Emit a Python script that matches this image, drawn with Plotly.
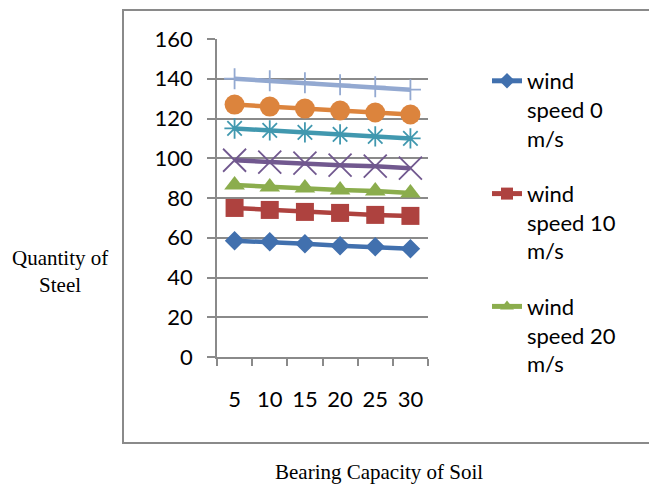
import plotly.graph_objects as go

# Bearing capacity categories (x axis)
bearing_capacity = ["5", "10", "15", "20", "25", "30"]

# Quantity of steel for each wind speed
steel_ws0 = [58.5, 58, 57, 56, 55.5, 54.5]
steel_ws10 = [75, 74, 73, 72.5, 71.5, 71]
steel_ws20 = [86.5, 85.5, 85, 84, 83.5, 82.5]
steel_ws30 = [99, 98, 97.5, 96.5, 96, 95]
steel_ws40 = [115, 114, 113, 112, 111, 110]
steel_ws50 = [127, 126, 125, 124, 123, 122]
steel_ws60 = [140, 139, 138, 137, 136, 134.5]

series_names = [
    "wind speed 0 m/s", "wind speed 10 m/s", "wind speed 20 m/s",
    "wind speed 30 m/s", "wind speed 40 m/s", "wind speed 50 m/s",
    "wind speed 60 m/s",
]
legend_labels = [
    "wind<br>speed 0<br>m/s", "wind<br>speed 10<br>m/s", "wind<br>speed 20<br>m/s",
    "wind<br>speed 30<br>m/s", "wind<br>speed 40<br>m/s", "wind<br>speed 50<br>m/s",
    "wind<br>speed 60<br>m/s",
]
y_ticks = [0, 20, 40, 60, 80, 100, 120, 140, 160]

all_series = [steel_ws0, steel_ws10, steel_ws20, steel_ws30,
              steel_ws40, steel_ws50, steel_ws60]
colors = ["#4170AE", "#AE423F", "#8BAD4D", "#71588F", "#4198AF", "#DC843D", "#93A9D1"]
symbols = ["diamond", "square", "triangle-up", "x-thin", "asterisk", "circle", "cross-thin"]
sizes = [15, 18, 18, 23, 17, 20, 15]
thin = {"x-thin", "asterisk", "cross-thin"}

W, H = 649, 485
L, R, T, B = 217, 428, 39, 357  # plot area in pixels


def px(x):
    return (x - L) / (R - L)


def py(y):
    return (B - y) / (B - T)


fig = go.Figure()
for i, (vals, name, lab) in enumerate(zip(all_series, series_names, legend_labels)):
    sym = symbols[i]
    marker = dict(symbol=sym, size=sizes[i], color=colors[i])
    if sym in thin:
        marker["line"] = dict(color=colors[i], width=1.8)
    else:
        marker["line"] = dict(width=0)
    fig.add_trace(go.Scatter(
        x=bearing_capacity, y=vals, name=lab, mode="lines+markers",
        line=dict(color=colors[i], width=4.5),
        marker=marker,
        showlegend=i < 3,
        legendgroup=f"g{i}",
        hovertext=name,
    ))

grey = "#8A8A8A"
font_sans = "Lato, Calibri, sans-serif"
font_serif = "Liberation Serif, Times New Roman, serif"

fig.update_layout(
    width=W, height=H,
    margin=dict(l=L, r=W - R, t=T, b=H - B, pad=0),
    paper_bgcolor="white", plot_bgcolor="white",
    font=dict(family=font_sans, size=22, color="black"),
    xaxis=dict(
        type="category", range=[-0.5, 5.5], tickson="boundaries",
        ticks="outside", ticklen=7, tickcolor=grey, tickwidth=1.5,
        showline=True, linecolor=grey, linewidth=1.5, tickangle=0,
        showgrid=False, zeroline=False, ticklabelstandoff=22,
        tickfont=dict(family=font_sans, size=22),
    ),
    yaxis=dict(
        range=[0, 160], tickvals=y_ticks, ticks="outside", ticklen=8,
        tickcolor=grey, tickwidth=1.5,
        showline=True, linecolor=grey, linewidth=1.5,
        showgrid=True, gridcolor=grey, gridwidth=1.5, zeroline=False,
        ticklabelstandoff=10,
        tickfont=dict(family=font_sans, size=22),
    ),
    legend=dict(
        x=px(487), y=py(60), xanchor="left", yanchor="top",
        valign="top", traceorder="grouped", tracegroupgap=24,
        font=dict(family=font_sans, size=22), bgcolor="rgba(0,0,0,0)",
        itemsizing="constant", maxheight=480,
    ),
    shapes=[dict(
        type="rect", xref="paper", yref="paper",
        x0=px(123), x1=px(720), y0=py(443), y1=py(10),
        line=dict(color=grey, width=2), fillcolor="rgba(0,0,0,0)", layer="below",
    )],
    annotations=[
        dict(text="Quantity of<br>Steel", xref="paper", yref="paper",
             x=px(60), y=py(271), xanchor="center", yanchor="middle",
             showarrow=False, font=dict(family=font_serif, size=21, color="black")),
        dict(text="Bearing Capacity of Soil", xref="paper", yref="paper",
             x=px(379), y=py(486), xanchor="center", yanchor="bottom",
             showarrow=False, font=dict(family=font_serif, size=21, color="black")),
    ],
    showlegend=True,
)

fig.write_html("out.html")
